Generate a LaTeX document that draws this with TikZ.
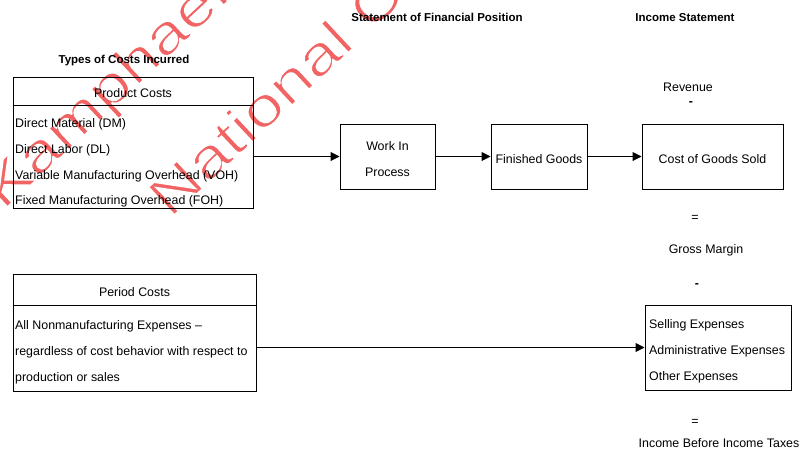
\documentclass[tikz,border=0pt]{standalone}
\usepackage{fontspec}
\setmainfont{Liberation Sans}
\usetikzlibrary{arrows.meta,calc}
\definecolor{wm}{RGB}{242,100,100}
\newcommand{\thinwm}[1]{\special{pdf:literal direct 2 Tr 1 1 1 RG 1.4 w}#1\special{pdf:literal direct 0 Tr 0 0 0 RG}}
\begin{document}
\begin{tikzpicture}[x=1pt,y=-1pt,
  box/.style={draw, line width=1pt, inner sep=0pt},
  txt/.style={font=\fontsize{12.4}{14}\selectfont, inner sep=0pt, anchor=base},
  ltxt/.style={txt, anchor=base west},
  ttl/.style={font=\fontsize{11.5}{13}\selectfont\bfseries, inner sep=0pt, anchor=base},
  arr/.style={line width=1pt, -{Triangle[length=9pt,width=9pt]}},
  wmark/.style={text=wm, font=\fontsize{55}{57}\selectfont, inner sep=0pt, anchor=base west, rotate=43, xscale=1.26}]
\useasboundingbox (0,0) rectangle (800,453);
% watermark (behind)
\begin{scope}
\clip (0,0) rectangle (800,453);
\node[wmark] (w1) at (3,211) {\thinwm{Kamphaeng}};
\node[wmark] (w2) at (170,219) {\thinwm{National Co}};
\end{scope}
% titles
\node[ttl] (t1) at (124,63.5) {Types of Costs Incurred};
\node[ttl] (t2) at (437,21.5) {Statement of Financial Position};
\node[ttl] (t3) at (685,21.5) {Income Statement};
% product costs box
\node[box, minimum width=240pt, minimum height=131pt] (prod) at (133,142.5) {};
\draw[line width=1pt] ($(prod.north west)+(0,29)$) coordinate (ps1) -- ($(prod.north east)+(0,29)$) coordinate (ps2);
\node[txt] (pc) at (133,97.5) {Product Costs};
\node[ltxt] (dm) at (15,127.5) {Direct Material (DM)};
\node[ltxt] (dl) at (15,153.5) {Direct Labor (DL)};
\node[ltxt] (voh) at (15,179.5) {Variable Manufacturing Overhead (VOH)};
\node[ltxt] (foh) at (15,204.5) {Fixed Manufacturing Overhead (FOH)};
% flow boxes
\node[box, minimum width=95pt, minimum height=65pt] (wip) at (387.5,156.5) {};
\node[txt] (wip1) at (387.5,150.5) {Work In};
\node[txt] (wip2) at (387.5,176.5) {Process};
\node[box, minimum width=96pt, minimum height=65pt] (fg) at (539,156.5) {};
\node[txt] (fgt) at (539,163.5) {Finished Goods};
\node[box, minimum width=141pt, minimum height=65pt] (cogs) at (712.5,156.5) {};
\node[txt] (cogst) at (712.5,163.5) {Cost of Goods Sold};
\draw[arr] (wip.west -| prod.east) -- (wip.west);
\draw[arr] (wip.east) -- (fg.west);
\draw[arr] (fg.east) -- (cogs.west);
% income statement texts
\node[txt] (rev) at (688,91) {Revenue};
\node[txt, font=\fontsize{12.4}{14}\selectfont\bfseries] (m1) at (691,105.5) {-};
\node[txt] (eq1) at (695,221) {=};
\node[txt] (gm) at (706,253.5) {Gross Margin};
\node[txt, font=\fontsize{12.4}{14}\selectfont\bfseries] (m2) at (697,287) {-};
% period costs box
\node[box, minimum width=243pt, minimum height=117pt] (per) at (134.5,332.5) {};
\draw[line width=1pt] ($(per.north west)+(0,32)$) coordinate (pp1) -- ($(per.north east)+(0,32)$) coordinate (pp2);
\node[txt] (perc) at (134.5,296.5) {Period Costs};
\node[ltxt] (p1) at (15,329.5) {All Nonmanufacturing Expenses –};
\node[ltxt] (p2) at (15,355.5) {regardless of cost behavior with respect to};
\node[ltxt] (p3) at (15,381.5) {production or sales};
% expenses box
\node[box, minimum width=146pt, minimum height=85pt] (exp) at (718,347.5) {};
\node[ltxt] (e1) at (649,328.5) {Selling Expenses};
\node[ltxt] (e2) at (649,354.5) {Administrative Expenses};
\node[ltxt] (e3) at (649,380.5) {Other Expenses};
\draw[arr] (exp.west -| per.east) -- (exp.west);
\node[txt] (eq2) at (695,425) {=};
\node[txt] (ibt) at (719,447.5) {Income Before Income Taxes};
\end{tikzpicture}
\end{document}
